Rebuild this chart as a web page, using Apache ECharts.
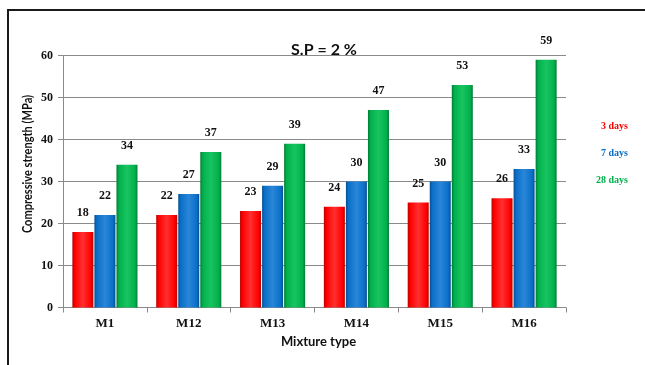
<!DOCTYPE html>
<html>
<head>
<meta charset="utf-8">
<script src="https://cdn.jsdelivr.net/npm/echarts@6/dist/echarts.min.js"></script>
<style>
  html, body { margin: 0; padding: 0; background: #fff; }
  #chart { width: 645px; height: 365px; }
</style>
</head>
<body>
<div id="chart"></div>
<script>
// Mixture types on the x axis
const mixtures = ['M1', 'M12', 'M13', 'M14', 'M15', 'M16'];
// Compressive strength (MPa) by curing age
const strength3d = [18, 22, 23, 24, 25, 26];
const strength7d = [22, 27, 29, 30, 30, 33];
const strength28d = [34, 37, 39, 47, 53, 59];
const seriesNames = ['3 days', '7 days', '28 days'];
const yTicks = [0, 10, 20, 30, 40, 50, 60];

const palette = [
  { base: '#ff0000', edge: '#b80000', light: '#ff3030' },
  { base: '#0a6fc8', edge: '#064f90', light: '#2a86d8' },
  { base: '#00b04c', edge: '#007a33', light: '#18c460' }
];
const seriesValues = [strength3d, strength7d, strength28d];

const serif = '"Liberation Serif", "Times New Roman", serif';
const sans = 'Lato, "Open Sans", sans-serif';

function bevel(c) {
  return new echarts.graphic.LinearGradient(0, 0, 1, 0, [
    { offset: 0, color: c.edge },
    { offset: 0.12, color: c.base },
    { offset: 0.5, color: c.light },
    { offset: 0.88, color: c.base },
    { offset: 1, color: c.edge }
  ]);
}

const chart = echarts.init(document.getElementById('chart'), null, { renderer: 'canvas' });

const series = seriesNames.map((name, i) => ({
  name: name,
  type: 'bar',
  data: seriesValues[i],
  barWidth: 21,
  barGap: '5%',
  itemStyle: { color: bevel(palette[i]) },
  label: {
    show: true,
    position: 'top',
    distance: 13,
    color: '#111',
    fontFamily: serif,
    fontWeight: 'bold',
    fontSize: 12
  }
}));

// Legend as right-aligned coloured text
const legendText = seriesNames.map((name, i) => ({
  type: 'text',
  right: 17,
  top: 121 + i * 27,
  style: {
    text: name,
    fill: palette[i].base,
    font: 'bold 10px ' + serif,
    textAlign: 'right'
  }
}));

chart.setOption({
  animation: false,
  title: {
    text: 'S.P = 2 %',
    left: 319,
    textAlign: 'center',
    top: 37,
    textStyle: { fontFamily: sans, fontWeight: 'bold', fontSize: 16, color: '#111' }
  },
  grid: { left: 63, right: 79, top: 55.5, bottom: 57.5, containLabel: false },
  xAxis: {
    type: 'category',
    data: mixtures,
    name: 'Mixture type',
    nameLocation: 'middle',
    nameGap: 28,
    nameTextStyle: { fontFamily: sans, fontWeight: 'bold', fontSize: 13, color: '#111', padding: [0, 0, 0, 8] },
    axisLine: { lineStyle: { color: '#8a8a8a', width: 1 } },
    axisTick: { show: true, length: 5, lineStyle: { color: '#8a8a8a' } },
    axisLabel: { fontFamily: serif, fontWeight: 'bold', fontSize: 13, color: '#111', margin: 10 }
  },
  yAxis: {
    type: 'value',
    min: yTicks[0],
    max: yTicks[yTicks.length - 1],
    interval: 10,
    axisLine: { show: true, lineStyle: { color: '#8a8a8a', width: 1 } },
    axisTick: { show: true, length: 5, lineStyle: { color: '#8a8a8a' } },
    axisLabel: { fontFamily: serif, fontWeight: 'bold', fontSize: 12, color: '#111', margin: 10 },
    splitLine: { lineStyle: { color: '#8a8a8a', width: 1 } }
  },
  series: series,
  graphic: [
    {
      type: 'rect',
      shape: { x: 8, y: 10, width: 660, height: 380 },
      style: { fill: 'none', stroke: '#1a1a1a', lineWidth: 2 },
      z: -1
    },
    {
      type: 'text',
      x: 28,
      y: 164,
      rotation: Math.PI / 2,
      scaleX: 0.85,
      style: {
        text: 'Compressive strength (MPa)',
        font: 'bold 13px ' + sans,
        fill: '#111',
        textAlign: 'center',
        textVerticalAlign: 'middle'
      }
    }
  ].concat(legendText)
});
</script>
</body>
</html>
